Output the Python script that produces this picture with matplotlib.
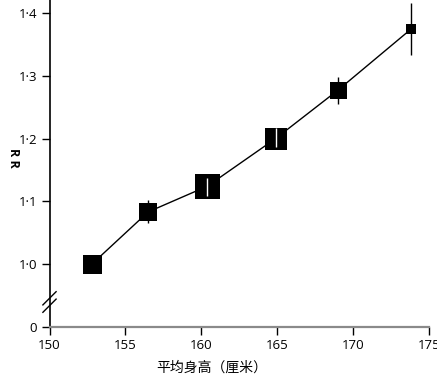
import numpy as np
import matplotlib
matplotlib.use("Agg")
import matplotlib.pyplot as plt

plt.rcParams['font.family'] = ['Open Sans', 'Noto Sans CJK SC', 'DejaVu Sans']

# mean height (cm) and relative risk with 95% CI
height = [152.8, 156.5, 160.4, 164.9, 169.0, 173.8]
rr = [1.00, 1.083, 1.124, 1.200, 1.277, 1.374]
ci_lo = [1.00, 1.065, 1.108, 1.186, 1.255, 1.333]
ci_hi = [1.00, 1.102, 1.137, 1.217, 1.298, 1.416]
box_px = [19, 18, 25, 22, 17, 10]   # marker side in pixels

xticks = [150, 155, 160, 165, 170, 175]
yticks = [0.9, 1.0, 1.1, 1.2, 1.3, 1.4]   # 0.9 slot shows the broken-axis zero
ytick_labels = ['0', '1·0', '1·1', '1·2', '1·3', '1·4']

W, H = 437, 377
fig = plt.figure(figsize=(W / 100, H / 100), dpi=100)
ax = fig.add_axes([49.5 / W, (H - 326.75) / H, (429 - 49.5) / W, 326.75 / H])

ax.plot(height, rr, color='black', lw=1.0, zorder=2)
ax.vlines(height, ci_lo, ci_hi, color='black', lw=1.0, zorder=2)
for x, y, s in zip(height, rr, box_px):
    ax.plot(x, y, marker='s', ms=s * 0.72, color='black', mec='black', mew=0, zorder=3)
# CIs that sit inside the box show as a white stroke
for i in [2, 3]:
    ax.vlines(height[i], ci_lo[i], ci_hi[i], color='white', lw=1.0, zorder=4)

ax.set_xlim(150, 175)
ax.set_ylim(0.9, 1.0 + 264 / 627.5)
ax.set_xticks(xticks)
ax.set_yticks(yticks)
ax.set_yticklabels(ytick_labels)

for s in ['top', 'right']:
    ax.spines[s].set_visible(False)
ax.spines['left'].set_linewidth(1.2)
ax.spines['bottom'].set_color('#8a8a8a')
ax.spines['bottom'].set_linewidth(1.6)
ax.tick_params(axis='both', length=6, width=1.0, pad=3, labelsize=9.5, color='black')
ax.yaxis.get_major_ticks()[0].tick1line.set_color('#8a8a8a')

# axis break marks
aw, ah = 429 - 49.5, 326.75
for cy in [298.3, 305.7]:
    yc = (ah - cy) / ah
    dx, dy = 6.6 / aw, 6.6 / ah
    ax.plot([-dx, dx], [yc - dy, yc + dy], transform=ax.transAxes,
            color='black', lw=1.0, clip_on=False, zorder=5)

ax.set_xlabel('平均身高（厘米）', fontsize=10)
ax.xaxis.set_label_coords((212 - 49.5) / aw, -34 / ah)
fig.text(13 / W, 1 - 158 / H, 'R R', rotation=270, fontsize=9, fontweight='bold',
         ha='center', va='center')

fig.savefig('out.png', dpi=100)
